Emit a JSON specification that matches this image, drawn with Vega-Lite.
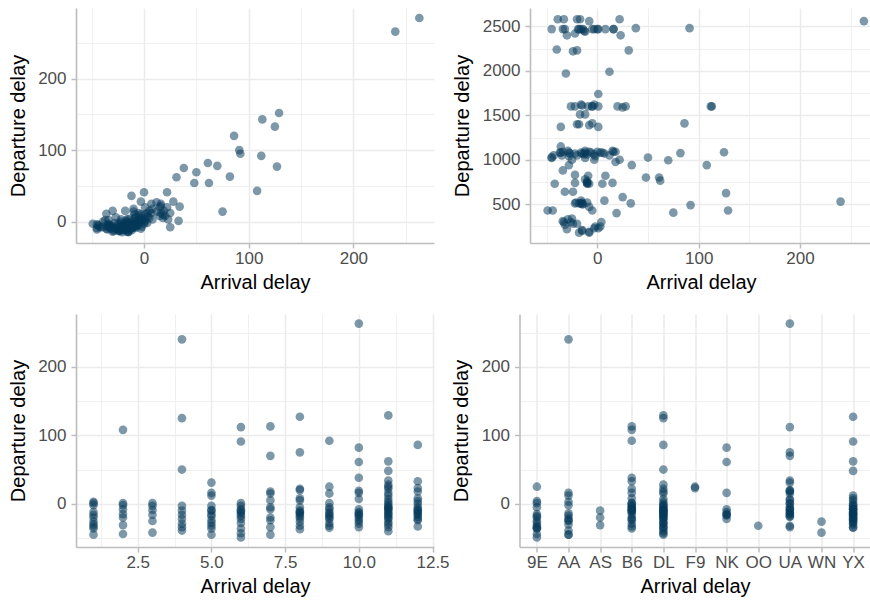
{
"$schema": "https://vega.github.io/schema/vega-lite/v6.json",
"padding": {"left": 8, "top": 8, "right": 0, "bottom": 0},
"background": "white",
"datasets": {"f": [
{"month":10,"carrier":"UA","arr":263,"dep":285,"time":2560},
{"month":4,"carrier":"AA","arr":240,"dep":266,"time":530},
{"month":11,"carrier":"DL","arr":129,"dep":152,"time":430},
{"month":8,"carrier":"YX","arr":127,"dep":77,"time":625},
{"month":4,"carrier":"DL","arr":125,"dep":133,"time":1085},
{"month":7,"carrier":"B6","arr":113,"dep":143,"time":1600},
{"month":6,"carrier":"UA","arr":112,"dep":92,"time":1600},
{"month":2,"carrier":"B6","arr":108,"dep":43,"time":940},
{"month":9,"carrier":"B6","arr":92,"dep":95,"time":490},
{"month":6,"carrier":"YX","arr":91,"dep":100,"time":2480},
{"month":12,"carrier":"DL","arr":86,"dep":120,"time":1410},
{"month":10,"carrier":"NK","arr":82,"dep":63,"time":1075},
{"month":8,"carrier":"UA","arr":75,"dep":14,"time":405},
{"month":7,"carrier":"UA","arr":70,"dep":78,"time":995},
{"month":10,"carrier":"NK","arr":61,"dep":82,"time":800},
{"month":11,"carrier":"YX","arr":62,"dep":54,"time":765},
{"month":4,"carrier":"DL","arr":50,"dep":69,"time":1025},
{"month":11,"carrier":"YX","arr":48,"dep":54,"time":800},
{"month":10,"carrier":"B6","arr":38,"dep":75,"time":2480},
{"month":11,"carrier":"UA","arr":34,"dep":21,"time":940},
{"month":12,"carrier":"B6","arr":33,"dep":1,"time":510},
{"month":5,"carrier":"UA","arr":31,"dep":62,"time":2230},
{"month":11,"carrier":"DL","arr":28,"dep":28,"time":1600},
{"month":9,"carrier":"9E","arr":25,"dep":-8,"time":580},
{"month":11,"carrier":"F9","arr":25,"dep":12,"time":1590},
{"month":12,"carrier":"F9","arr":23,"dep":3,"time":2400},
{"month":8,"carrier":"B6","arr":22,"dep":41,"time":2580},
{"month":11,"carrier":"DL","arr":22,"dep":20,"time":1000},
{"month":8,"carrier":"UA","arr":20,"dep":8,"time":1600},
{"month":10,"carrier":"UA","arr":19,"dep":15,"time":400},
{"month":7,"carrier":"UA","arr":18,"dep":10,"time":975},
{"month":12,"carrier":"DL","arr":18,"dep":5,"time":1090},
{"month":11,"carrier":"NK","arr":16,"dep":25,"time":2470},
{"month":5,"carrier":"AA","arr":16,"dep":12,"time":2470},
{"month":10,"carrier":"B6","arr":16,"dep":22,"time":1090},
{"month":7,"carrier":"UA","arr":15,"dep":20,"time":1100},
{"month":9,"carrier":"DL","arr":15,"dep":8,"time":740},
{"month":5,"carrier":"YX","arr":12,"dep":14,"time":1990},
{"month":11,"carrier":"AA","arr":12,"dep":27,"time":1050},
{"month":8,"carrier":"B6","arr":8,"dep":18,"time":2470},
{"month":12,"carrier":"YX","arr":8,"dep":3,"time":820},
{"month":10,"carrier":"UA","arr":7,"dep":12,"time":1070},
{"month":11,"carrier":"DL","arr":7,"dep":25,"time":540},
{"month":7,"carrier":"YX","arr":5,"dep":5,"time":730},
{"month":8,"carrier":"UA","arr":5,"dep":15,"time":1080},
{"month":12,"carrier":"9E","arr":4,"dep":8,"time":300},
{"month":1,"carrier":"DL","arr":3,"dep":12,"time":1080},
{"month":11,"carrier":"AA","arr":3,"dep":-2,"time":250},
{"month":2,"carrier":"B6","arr":1,"dep":20,"time":2470},
{"month":1,"carrier":"YX","arr":1,"dep":0,"time":1370},
{"month":3,"carrier":"UA","arr":1,"dep":5,"time":1740},
{"month":6,"carrier":"B6","arr":1,"dep":2,"time":1600},
{"month":9,"carrier":"9E","arr":1,"dep":10,"time":230},
{"month":11,"carrier":"DL","arr":0,"dep":41,"time":2470},
{"month":12,"carrier":"UA","arr":0,"dep":-3,"time":1090},
{"month":1,"carrier":"YX","arr":-2,"dep":-7,"time":1040},
{"month":1,"carrier":"YX","arr":-12,"dep":-5,"time":1080},
{"month":1,"carrier":"DL","arr":-16,"dep":3,"time":510},
{"month":1,"carrier":"9E","arr":-20,"dep":-8,"time":2580},
{"month":1,"carrier":"WN","arr":-26,"dep":-10,"time":300},
{"month":1,"carrier":"AA","arr":-30,"dep":15,"time":2400},
{"month":1,"carrier":"9E","arr":-36,"dep":-6,"time":1080},
{"month":1,"carrier":"AA","arr":-45,"dep":-9,"time":2470},
{"month":2,"carrier":"AA","arr":-2,"dep":2,"time":250},
{"month":2,"carrier":"B6","arr":-8,"dep":-2,"time":1090},
{"month":2,"carrier":"DL","arr":-15,"dep":-12,"time":520},
{"month":2,"carrier":"AS","arr":-31,"dep":-7,"time":1970},
{"month":2,"carrier":"9E","arr":-44,"dep":-5,"time":430},
{"month":3,"carrier":"B6","arr":-3,"dep":-10,"time":1620},
{"month":3,"carrier":"UA","arr":-9,"dep":10,"time":1600},
{"month":3,"carrier":"NK","arr":-16,"dep":-4,"time":2470},
{"month":3,"carrier":"WN","arr":-42,"dep":-8,"time":730},
{"month":4,"carrier":"DL","arr":-3,"dep":5,"time":2470},
{"month":4,"carrier":"YX","arr":-16,"dep":-14,"time":1620},
{"month":4,"carrier":"B6","arr":-22,"dep":-6,"time":1070},
{"month":4,"carrier":"DL","arr":-29,"dep":-11,"time":330},
{"month":4,"carrier":"YX","arr":-34,"dep":-3,"time":880},
{"month":4,"carrier":"AA","arr":-39,"dep":0,"time":2580},
{"month":5,"carrier":"YX","arr":-3,"dep":28,"time":1060},
{"month":5,"carrier":"DL","arr":-9,"dep":5,"time":820},
{"month":5,"carrier":"NK","arr":-15,"dep":-10,"time":500},
{"month":5,"carrier":"9E","arr":-18,"dep":15,"time":1400},
{"month":5,"carrier":"AA","arr":-24,"dep":-12,"time":2220},
{"month":5,"carrier":"OO","arr":-32,"dep":-5,"time":640},
{"month":5,"carrier":"9E","arr":-36,"dep":-10,"time":1150},
{"month":5,"carrier":"DL","arr":-45,"dep":-4,"time":1030},
{"month":6,"carrier":"B6","arr":-3,"dep":2,"time":230},
{"month":6,"carrier":"YX","arr":-8,"dep":-9,"time":2560},
{"month":6,"carrier":"NK","arr":-12,"dep":36,"time":1100},
{"month":6,"carrier":"B6","arr":-15,"dep":-15,"time":1610},
{"month":6,"carrier":"DL","arr":-22,"dep":0,"time":2420},
{"month":6,"carrier":"YX","arr":-28,"dep":-9,"time":940},
{"month":6,"carrier":"B6","arr":-36,"dep":11,"time":1370},
{"month":6,"carrier":"DL","arr":-43,"dep":-6,"time":1050},
{"month":6,"carrier":"9E","arr":-49,"dep":-3,"time":430},
{"month":7,"carrier":"DL","arr":-5,"dep":12,"time":1600},
{"month":7,"carrier":"YX","arr":-8,"dep":-4,"time":190},
{"month":7,"carrier":"B6","arr":-24,"dep":-13,"time":640},
{"month":7,"carrier":"UA","arr":-34,"dep":-5,"time":2470},
{"month":7,"carrier":"AA","arr":-45,"dep":-11,"time":1020},
{"month":8,"carrier":"YX","arr":-5,"dep":8,"time":2470},
{"month":8,"carrier":"AS","arr":-10,"dep":-3,"time":760},
{"month":8,"carrier":"UA","arr":-13,"dep":-7,"time":2450},
{"month":8,"carrier":"9E","arr":-15,"dep":-1,"time":1070},
{"month":8,"carrier":"AA","arr":-21,"dep":-15,"time":520},
{"month":8,"carrier":"YX","arr":-26,"dep":-8,"time":1600},
{"month":8,"carrier":"UA","arr":-32,"dep":-10,"time":270},
{"month":8,"carrier":"DL","arr":-37,"dep":2,"time":1080},
{"month":9,"carrier":"9E","arr":-5,"dep":3,"time":430},
{"month":9,"carrier":"DL","arr":-8,"dep":6,"time":1390},
{"month":9,"carrier":"B6","arr":-12,"dep":-10,"time":2440},
{"month":9,"carrier":"YX","arr":-15,"dep":-14,"time":200},
{"month":9,"carrier":"NK","arr":-17,"dep":-4,"time":1510},
{"month":9,"carrier":"NK","arr":-22,"dep":-12,"time":830},
{"month":9,"carrier":"9E","arr":-32,"dep":-7,"time":2470},
{"month":9,"carrier":"YX","arr":-35,"dep":-11,"time":1050},
{"month":10,"carrier":"NK","arr":-8,"dep":1,"time":730},
{"month":10,"carrier":"DL","arr":-12,"dep":-9,"time":1510},
{"month":10,"carrier":"AA","arr":-14,"dep":4,"time":2470},
{"month":10,"carrier":"UA","arr":-16,"dep":-6,"time":540},
{"month":10,"carrier":"YX","arr":-22,"dep":-2,"time":1600},
{"month":10,"carrier":"B6","arr":-29,"dep":-13,"time":1100},
{"month":10,"carrier":"DL","arr":-34,"dep":-8,"time":310},
{"month":11,"carrier":"DL","arr":-3,"dep":10,"time":1000},
{"month":11,"carrier":"B6","arr":-5,"dep":0,"time":1410},
{"month":11,"carrier":"YX","arr":-8,"dep":-6,"time":470},
{"month":11,"carrier":"DL","arr":-10,"dep":14,"time":740},
{"month":11,"carrier":"YX","arr":-13,"dep":-3,"time":1060},
{"month":11,"carrier":"DL","arr":-15,"dep":-8,"time":210},
{"month":11,"carrier":"AA","arr":-17,"dep":1,"time":2580},
{"month":11,"carrier":"AS","arr":-20,"dep":-11,"time":1400},
{"month":11,"carrier":"YX","arr":-22,"dep":-7,"time":740},
{"month":11,"carrier":"DL","arr":-27,"dep":6,"time":1070},
{"month":11,"carrier":"YX","arr":-30,"dep":-14,"time":220},
{"month":11,"carrier":"9E","arr":-34,"dep":2,"time":1090},
{"month":12,"carrier":"UA","arr":-5,"dep":-5,"time":1600},
{"month":12,"carrier":"B6","arr":-10,"dep":18,"time":520},
{"month":12,"carrier":"DL","arr":-12,"dep":-12,"time":780},
{"month":12,"carrier":"YX","arr":-16,"dep":-1,"time":1080},
{"month":12,"carrier":"UA","arr":-19,"dep":-10,"time":2470},
{"month":12,"carrier":"DL","arr":-22,"dep":3,"time":510},
{"month":12,"carrier":"YX","arr":-24,"dep":-13,"time":280},
{"month":12,"carrier":"DL","arr":-33,"dep":-6,"time":2580},
{"month":11,"carrier":"UA","arr":-6,"dep":-4,"time":1080},
{"month":5,"carrier":"UA","arr":-10,"dep":-8,"time":740},
{"month":8,"carrier":"DL","arr":-18,"dep":-10,"time":180},
{"month":9,"carrier":"B6","arr":-20,"dep":-5,"time":1050},
{"month":12,"carrier":"UA","arr":-14,"dep":-7,"time":500},
{"month":6,"carrier":"UA","arr":-18,"dep":-9,"time":510},
{"month":10,"carrier":"9E","arr":-25,"dep":-6,"time":1000},
{"month":7,"carrier":"DL","arr":-20,"dep":-12,"time":2230},
{"month":11,"carrier":"DL","arr":-40,"dep":-8,"time":2240},
{"month":3,"carrier":"AA","arr":-25,"dep":-3,"time":340},
{"month":1,"carrier":"B6","arr":-33,"dep":-7,"time":300},
{"month":2,"carrier":"YX","arr":-20,"dep":-4,"time":280},
{"month":9,"carrier":"DL","arr":-28,"dep":-2,"time":1040},
{"month":12,"carrier":"B6","arr":-8,"dep":-6,"time":180},
{"month":6,"carrier":"DL","arr":-10,"dep":-8,"time":730},
{"month":8,"carrier":"YX","arr":-12,"dep":-5,"time":1020},
{"month":4,"carrier":"B6","arr":-10,"dep":0,"time":1060},
{"month":5,"carrier":"9E","arr":-28,"dep":-9,"time":1080},
{"month":10,"carrier":"YX","arr":-18,"dep":-3,"time":2470}
]},
"spacing": 21,
"vconcat": [
{"spacing": 18, "hconcat": [
{"width": 358, "height": 235, "data": {"name": "f"},
 "mark": {"type": "circle", "size": 75, "opacity": 0.52, "color": "#063a5b"},
 "encoding": {
  "x": {"field": "arr", "type": "quantitative", "title": "Arrival delay",
   "scale": {"domain": [-65, 277], "nice": false, "zero": false},
   "axis": {"values": [-50, 0, 50, 100, 150, 200, 250], "format": "d",
    "labelExpr": "datum.value % 100 === 0 ? datum.label : ''",
    "tickOpacity": {"condition": {"test": "datum.value % 100 !== 0", "value": 0}, "value": 1},
    "gridWidth": {"condition": {"test": "datum.value % 100 !== 0", "value": 0.75}, "value": 1.5}}},
  "y": {"field": "dep", "type": "quantitative", "title": "Departure delay",
   "scale": {"domain": [-30, 299], "nice": false, "zero": false},
   "axis": {"values": [0, 50, 100, 150, 200, 250], "format": "d",
    "labelExpr": "datum.value % 100 === 0 ? datum.label : ''",
    "tickOpacity": {"condition": {"test": "datum.value % 100 !== 0", "value": 0}, "value": 1},
    "gridWidth": {"condition": {"test": "datum.value % 100 !== 0", "value": 0.75}, "value": 1.5}}}
 }},
{"width": 342, "height": 235, "data": {"name": "f"},
 "mark": {"type": "circle", "size": 75, "opacity": 0.52, "color": "#063a5b"},
 "encoding": {
  "x": {"field": "arr", "type": "quantitative", "title": "Arrival delay",
   "scale": {"domain": [-66.4, 271], "nice": false, "zero": false},
   "axis": {"values": [-50, 0, 50, 100, 150, 200, 250], "format": "d",
    "labelExpr": "datum.value % 100 === 0 ? datum.label : ''",
    "tickOpacity": {"condition": {"test": "datum.value % 100 !== 0", "value": 0}, "value": 1},
    "gridWidth": {"condition": {"test": "datum.value % 100 !== 0", "value": 0.75}, "value": 1.5}}},
  "y": {"field": "time", "type": "quantitative", "title": "Departure delay",
   "scale": {"domain": [64, 2707], "nice": false, "zero": false},
   "axis": {"values": [250, 500, 750, 1000, 1250, 1500, 1750, 2000, 2250, 2500], "format": "d",
    "labelExpr": "datum.value % 500 === 0 ? datum.label : ''",
    "tickOpacity": {"condition": {"test": "datum.value % 500 !== 0", "value": 0}, "value": 1},
    "gridWidth": {"condition": {"test": "datum.value % 500 !== 0", "value": 0.75}, "value": 1.5}}}
 }}
]},
{"spacing": 1.5, "hconcat": [
{"width": 358, "height": 233, "data": {"name": "f"},
 "mark": {"type": "circle", "size": 75, "opacity": 0.52, "color": "#063a5b"},
 "encoding": {
  "x": {"field": "month", "type": "quantitative", "title": "Arrival delay",
   "scale": {"domain": [0.406, 12.55], "nice": false, "zero": false},
   "axis": {"values": [1.25, 2.5, 3.75, 5, 6.25, 7.5, 8.75, 10, 11.25, 12.5], "format": ".1f",
    "labelExpr": "datum.value % 2.5 === 0 ? datum.label : ''",
    "tickOpacity": {"condition": {"test": "datum.value % 2.5 !== 0", "value": 0}, "value": 1},
    "gridWidth": {"condition": {"test": "datum.value % 2.5 !== 0", "value": 0.75}, "value": 1.5}}},
  "y": {"field": "arr", "type": "quantitative", "title": "Departure delay",
   "scale": {"domain": [-63, 277], "nice": false, "zero": false},
   "axis": {"values": [-50, 0, 50, 100, 150, 200, 250], "format": "d",
    "labelExpr": "datum.value % 100 === 0 ? datum.label : ''",
    "tickOpacity": {"condition": {"test": "datum.value % 100 !== 0", "value": 0}, "value": 1},
    "gridWidth": {"condition": {"test": "datum.value % 100 !== 0", "value": 0.75}, "value": 1.5}}}
 }},
{"width": 351, "height": 233, "data": {"name": "f"},
 "mark": {"type": "circle", "size": 75, "opacity": 0.52, "color": "#063a5b"},
 "encoding": {
  "x": {"field": "carrier", "type": "nominal", "title": "Arrival delay",
   "scale": {"type": "point", "padding": 0.55, "domain": ["9E", "AA", "AS", "B6", "DL", "F9", "NK", "OO", "UA", "WN", "YX"]},
   "axis": {"labelAngle": 0, "grid": true, "gridWidth": 1.5}},
  "y": {"field": "arr", "type": "quantitative", "title": "Departure delay",
   "scale": {"domain": [-63, 277], "nice": false, "zero": false},
   "axis": {"values": [-50, 0, 50, 100, 150, 200, 250], "format": "d",
    "labelExpr": "datum.value % 100 === 0 ? datum.label : ''",
    "tickOpacity": {"condition": {"test": "datum.value % 100 !== 0", "value": 0}, "value": 1},
    "gridWidth": {"condition": {"test": "datum.value % 100 !== 0", "value": 0.75}, "value": 1.5}}}
 }}
]}
],
"config": {
 "view": {"stroke": null},
 "font": "Liberation Sans",
 "axis": {
  "domainColor": "#bdbdbd", "domainWidth": 1.6,
  "tickColor": "#bdbdbd", "tickWidth": 1.5, "tickSize": 5,
  "gridColor": "#ebebeb", "gridWidth": 1.5,
  "labelColor": "#4d4d4d", "labelFont": "Liberation Sans", "labelFontSize": 17,
  "labelFlush": false, "labelOverlap": false,
  "titleColor": "#000000", "titleFont": "Liberation Sans", "titleFontSize": 20, "titleFontWeight": "normal"
 },
 "axisX": {"labelPadding": 2, "titlePadding": 6.5},
 "axisY": {"labelPadding": 5, "titlePadding": 9.5}
}
}
